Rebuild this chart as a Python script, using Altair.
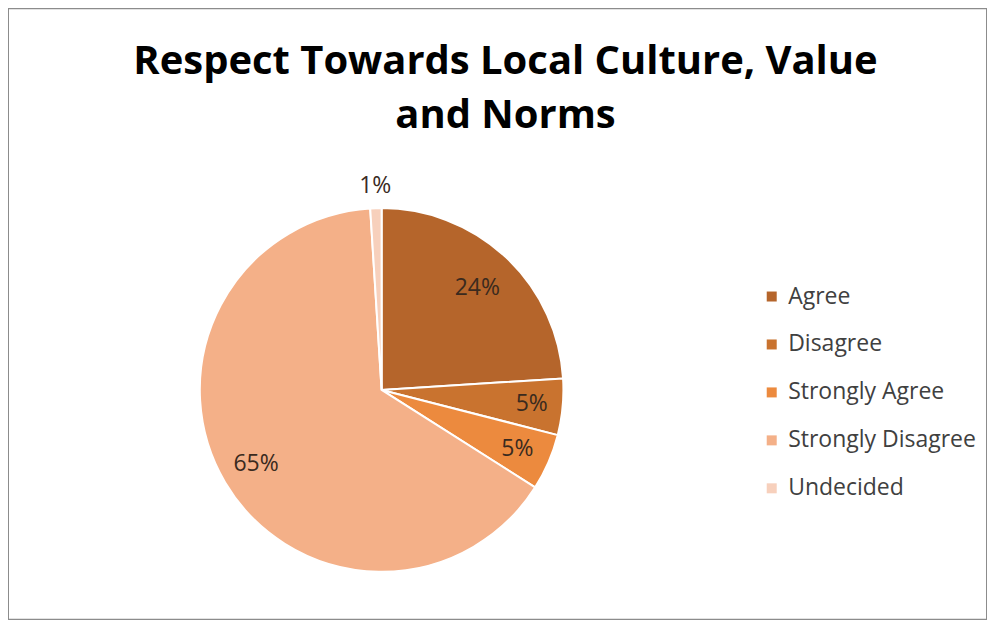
import altair as alt
import pandas as pd

categories = ["Agree", "Disagree", "Strongly Agree", "Strongly Disagree", "Undecided"]
values = [24, 5, 5, 65, 1]
labels = ["24%", "5%", "5%", "65%", "1%"]
label_radius = [140, 151, 148, 146, 204]
colors = ["#B5652B", "#C9732F", "#EC8A3E", "#F4B088", "#F7D0BC"]

df = pd.DataFrame({
    "category": categories,
    "value": values,
    "label": labels,
    "lr": label_radius,
    "order": list(range(len(categories))),
})

cx, cy = 374, 382

base = (
    alt.Chart(df)
    .transform_window(
        cum="sum(value)",
        sort=[alt.SortField("order")],
        frame=[None, 0],
    )
    .transform_calculate(
        start="datum.cum - datum.value",
        mid="datum.cum - datum.value / 2",
    )
)

theta_scale = alt.Scale(domain=[0, 100], range=[0, 6.283185307179586])

pie = base.mark_arc(outerRadius=182, stroke="white", strokeWidth=2).encode(
    x=alt.value(cx),
    y=alt.value(cy),
    theta=alt.Theta("start:Q", scale=theta_scale),
    theta2="cum:Q",
    color=alt.Color(
        "category:N",
        sort=categories,
        scale=alt.Scale(domain=categories, range=colors),
        legend=alt.Legend(
            title=None,
            orient="none",
            legendX=753,
            legendY=277,
            symbolType="square",
            symbolSize=100,
            symbolStrokeWidth=0,
            labelFont="Open Sans",
            labelFontSize=23,
            labelColor="#404040",
            labelLimit=0,
            rowPadding=24,
            labelOffset=5,
        ),
    ),
)

text = base.mark_text(font="Open Sans", fontSize=23, color="#3a2a1e").encode(
    x=alt.value(cx),
    y=alt.value(cy),
    theta=alt.Theta("mid:Q", scale=theta_scale),
    radius=alt.Radius("lr:Q", scale=None),
    text="label:N",
)

chart = (
    alt.layer(pie, text)
    .properties(
        width=980,
        height=612,
        title=alt.TitleParams(
            text=["Respect Towards Local Culture, Value", "and Norms"],
            font="Open Sans",
            fontSize=40,
            fontWeight="bold",
            color="#000000",
            anchor="middle",
            orient="top",
            offset=-128,
            lineHeight=54,
            dx=8,
        ),
    )
    .configure(padding=0)
    .configure_view(stroke="#8c8c8c", strokeWidth=2)
)

chart.save("out.html", embed_options={"renderer": "svg", "actions": False})
